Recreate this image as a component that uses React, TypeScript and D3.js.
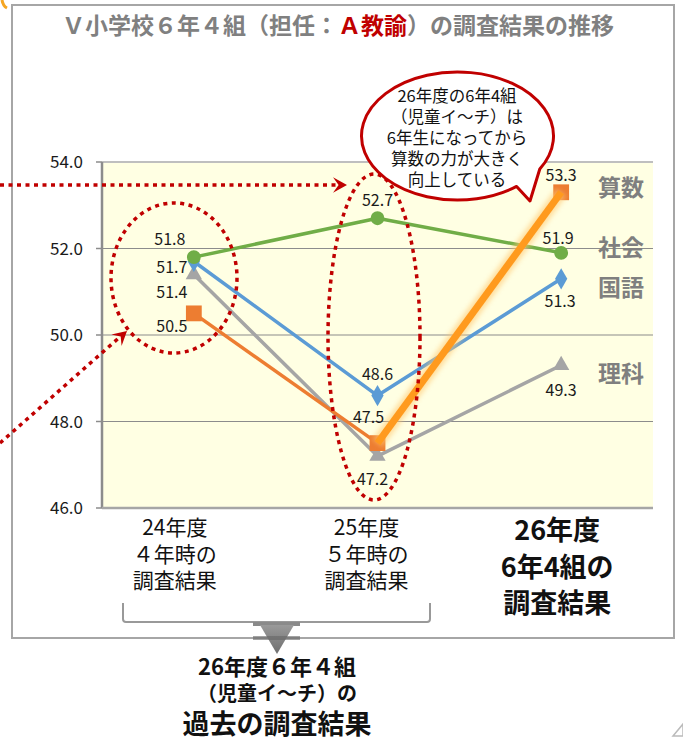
import React from 'react';
import * as d3 from 'd3';

// ---- data ----
const categories = ['24年度', '25年度', '26年度'];
const yTicks = [46, 48, 50, 52, 54];
const sansu = [50.5, 47.5, 53.3];
const shakai = [51.8, 52.7, 51.9];
const kokugo = [51.7, 48.6, 51.3];
const rika = [51.4, 47.2, 49.3];
const seriesNames = ['算数', '社会', '国語', '理科'];
const catLabelLines = [
  ['24年度', '４年時の', '調査結果'],
  ['25年度', '５年時の', '調査結果'],
  ['26年度', '6年4組の', '調査結果'],
];
const titleParts = ['Ｖ小学校６年４組（担任：', 'Ａ教諭', '）の調査結果の推移'];
const bubbleLines = ['26年度の6年4組', '（児童イ〜チ）は', '6年生になってから', '算数の力が大きく', '向上している'];
const footerLines = ['26年度６年４組', '（児童イ〜チ）の', '過去の調査結果'];

const W = 683;
const H = 742;
const FONT = "'Noto Sans CJK JP', 'Noto Sans', sans-serif";
const RED = '#C00000';

const x = d3.scaleBand<string>().domain(categories).range([102, 653]);
const y = d3.scaleLinear().domain([46, 54]).range([508, 162]);
const cx = (c: string) => (x(c) as number) + x.bandwidth() / 2;

type S = {
  name: string;
  values: number[];
  color: string;
  symbol: d3.SymbolType;
  size: number;
  labelOff: [number, number][];
  nameDy: number;
};

const seriesList: S[] = [
  { name: seriesNames[3], values: rika, color: '#A5A5A5', symbol: d3.symbolTriangle, size: 115, labelOff: [[-22, 24], [-5, 29], [0, 31]], nameDy: 8 },
  { name: seriesNames[2], values: kokugo, color: '#5B9BD5', symbol: d3.symbolDiamond, size: 130, labelOff: [[-22, 12], [0, -16], [-1, 28]], nameDy: 9 },
  { name: seriesNames[0], values: sansu, color: '#ED7D31', symbol: d3.symbolSquare, size: 250, labelOff: [[-22, 19], [-9, -20], [0, -11]], nameDy: -5 },
  { name: seriesNames[1], values: shakai, color: '#70AD47', symbol: d3.symbolCircle, size: 150, labelOff: [[-24, -12], [0, -12], [-3, -9]], nameDy: -5 },
];

// category label style (horizontal nudge per category)
const catDx = [-19, -11, -4];

const lineGen = d3
  .line<number>()
  .x((_, i) => cx(categories[i]))
  .y((d) => y(d));

function ellipsePt(ecx: number, ecy: number, rx: number, ry: number, deg: number) {
  const a = (deg * Math.PI) / 180;
  return [ecx + rx * Math.cos(a), ecy + ry * Math.sin(a)];
}

function arrowHead(tx: number, ty: number, angleDeg: number, size = 14) {
  const pts = [
    [0, 0],
    [-size, -size * 0.55],
    [-size * 0.6, 0],
    [-size, size * 0.55],
  ];
  const a = (angleDeg * Math.PI) / 180;
  const c = Math.cos(a);
  const s = Math.sin(a);
  return (
    'M' +
    pts.map(([px, py]) => `${tx + px * c - py * s},${ty + px * s + py * c}`).join('L') +
    'Z'
  );
}

export default function App() {
  const plotL = 102;
  const plotR = 653;
  const plotT = y(54);
  const plotB = y(46);

  // speech bubble
  const bcx = 457.5, bcy = 136, brx = 96, bry = 64;
  const p1 = ellipsePt(bcx, bcy, brx, bry, 31);
  const p2 = ellipsePt(bcx, bcy, brx, bry, 52);
  const tip = [530, 201];
  const bubblePath = `M${p1[0]},${p1[1]} A${brx},${bry} 0 1 0 ${p2[0]},${p2[1]} L${tip[0]},${tip[1]} Z`;

  const diagStart = [0, 443];
  const diagEnd = [127, 331];
  const diagAngle = (Math.atan2(diagEnd[1] - diagStart[1], diagEnd[0] - diagStart[0]) * 180) / Math.PI;

  const seg = `M${cx(categories[1])},${y(sansu[1])}L${cx(categories[2])},${y(sansu[2])}`;

  return (
    <svg
      width={W}
      height={H}
      viewBox={`0 0 ${W} ${H}`}
      style={{ position: 'absolute', left: 0, top: 0, display: 'block', background: '#fff' }}
      fontFamily={FONT}
    >
      <defs>
        <filter id="glow" x="-20%" y="-20%" width="140%" height="140%">
          <feGaussianBlur stdDeviation="2.5" />
        </filter>
        <linearGradient id="triGrad" x1="0" y1="0" x2="0" y2="1">
          <stop offset="0" stopColor="#9a9a9a" />
          <stop offset="1" stopColor="#6e6e6e" />
        </linearGradient>
      </defs>

      {/* corner decorations */}
      <path d="M2,0 Q3,6 7,8" stroke="#F5A623" strokeWidth={3} fill="none" />
      <path d="M683,724 L683,736 L673,736 Z" fill="none" stroke="#BBBBBB" strokeWidth={1.5} />

      {/* outer frame */}
      <rect x={12} y={5} width={662} height={633} fill="#fff" stroke="#A6A6A6" strokeWidth={2} />

      {/* title */}
      <text x={338} y={34} textAnchor="middle" fontSize={23} fontWeight={700} fill="#808080">
        <tspan>{titleParts[0]}</tspan>
        <tspan fill={RED}>{titleParts[1]}</tspan>
        <tspan>{titleParts[2]}</tspan>
      </text>

      {/* plot area */}
      <rect x={plotL} y={plotT} width={plotR - plotL} height={plotB - plotT} fill="#FFFFE3" />
      {yTicks.map((t) => (
        <g key={t}>
          <line x1={plotL} x2={plotR} y1={y(t)} y2={y(t)} stroke={t === 54 ? '#BFBFBF' : '#8C8C8C'} strokeWidth={t === 54 ? 2 : 1.2} />
          <line x1={96} x2={plotL} y1={y(t)} y2={y(t)} stroke="#8C8C8C" strokeWidth={1.5} />
          <text x={83} y={y(t)} dy="0.36em" textAnchor="end" fontSize={17} fill="#1a1a1a">
            {t.toFixed(1)}
          </text>
        </g>
      ))}
      <line x1={plotL} x2={plotL} y1={plotT} y2={plotB} stroke="#8C8C8C" strokeWidth={2.5} />
      <line x1={plotL} x2={plotR} y1={plotB} y2={plotB} stroke="#A6A6A6" strokeWidth={2.5} />

      {/* series lines */}
      {seriesList.map((s) => (
        <path
          key={s.name}
          d={lineGen(s.values === sansu ? s.values.slice(0, 2) : s.values) as string}
          fill="none"
          stroke={s.color}
          strokeWidth={3.5}
          strokeLinejoin="round"
        />
      ))}
      {/* markers */}
      {seriesList.map((s) =>
        s.values.map((v, i) => (
          <path
            key={s.name + i}
            d={d3.symbol().type(s.symbol).size(s.size)() as string}
            transform={`translate(${cx(categories[i])},${y(v)})`}
            fill={s.color}
          />
        ))
      )}

      {/* highlighted orange segment */}
      <path d={seg} stroke="#FFC870" strokeWidth={13} opacity={0.6} filter="url(#glow)" fill="none" />
      <path d={seg} stroke="#FF9A1E" strokeWidth={7} fill="none" />

      {/* data labels */}
      {seriesList.map((s) =>
        s.values.map((v, i) => (
          <text
            key={'l' + s.name + i}
            x={cx(categories[i]) + s.labelOff[i][0]}
            y={y(v) + s.labelOff[i][1]}
            textAnchor="middle"
            fontSize={16}
            fill="#1a1a1a"
          >
            {v.toFixed(1)}
          </text>
        ))
      )}

      {/* series names */}
      {seriesList.map((s) => (
        <text
          key={'n' + s.name}
          x={621}
          y={y(s.values[2]) + s.nameDy}
          dy="0.36em"
          textAnchor="middle"
          fontSize={23}
          fontWeight={700}
          fill="#7F7F7F"
        >
          {s.name}
        </text>
      ))}

      {/* category labels */}
      {catLabelLines.map((lines, ci) =>
        lines.map((ln, li) => {
          const bold = ci === 2;
          return (
            <text
              key={'c' + ci + li}
              x={cx(categories[ci]) + catDx[ci]}
              y={bold ? 540 + li * 36.5 : 535 + li * 26.5}
              textAnchor="middle"
              fontSize={bold ? 27 : 21}
              fontWeight={bold ? 700 : 400}
              fill="#111"
            >
              {ln}
            </text>
          );
        })
      )}

      {/* bracket */}
      <path d="M123,603 L123,619 Q123,622 126,622 L427,622 Q430,622 430,619 L430,603" fill="none" stroke="#999" strokeWidth={2} />
      <rect x={253} y={622} width={47} height={4} fill="#8a8a8a" />
      <path d="M260,625 L294,625 L277,654 Z" fill="url(#triGrad)" />
      <rect x={253} y={636} width={47} height={4} fill="#666" opacity={0.6} />

      {/* footer */}
      <text x={277} y={675} textAnchor="middle" fontSize={22} fontWeight={700} fill="#111">{footerLines[0]}</text>
      <text x={277} y={701} textAnchor="middle" fontSize={20} fontWeight={700} fill="#111">{footerLines[1]}</text>
      <text x={277} y={734} textAnchor="middle" fontSize={27} fontWeight={700} fill="#111">{footerLines[2]}</text>

      {/* red dotted annotations */}
      <g stroke={RED} strokeWidth={3.5} strokeDasharray="4 4.5" fill="none">
        <ellipse cx={174} cy={278} rx={63} ry={75} />
        <ellipse cx={374} cy={337} rx={46} ry={163} />
        <line x1={0} y1={185} x2={336} y2={185} />
        <line x1={diagStart[0]} y1={diagStart[1]} x2={diagEnd[0] - 6} y2={diagEnd[1] + 5} />
      </g>
      <path d={arrowHead(347, 185, 0, 14)} fill={RED} />
      <path d={arrowHead(diagEnd[0], diagEnd[1], diagAngle, 14)} fill={RED} />

      {/* speech bubble */}
      <path d={bubblePath} fill="#fff" stroke={RED} strokeWidth={3} strokeLinejoin="round" />
      {bubbleLines.map((ln, i) => (
        <text key={'b' + i} x={457} y={102 + i * 21} textAnchor="middle" fontSize={16.5} fill="#111">
          {ln}
        </text>
      ))}
    </svg>
  );
}
